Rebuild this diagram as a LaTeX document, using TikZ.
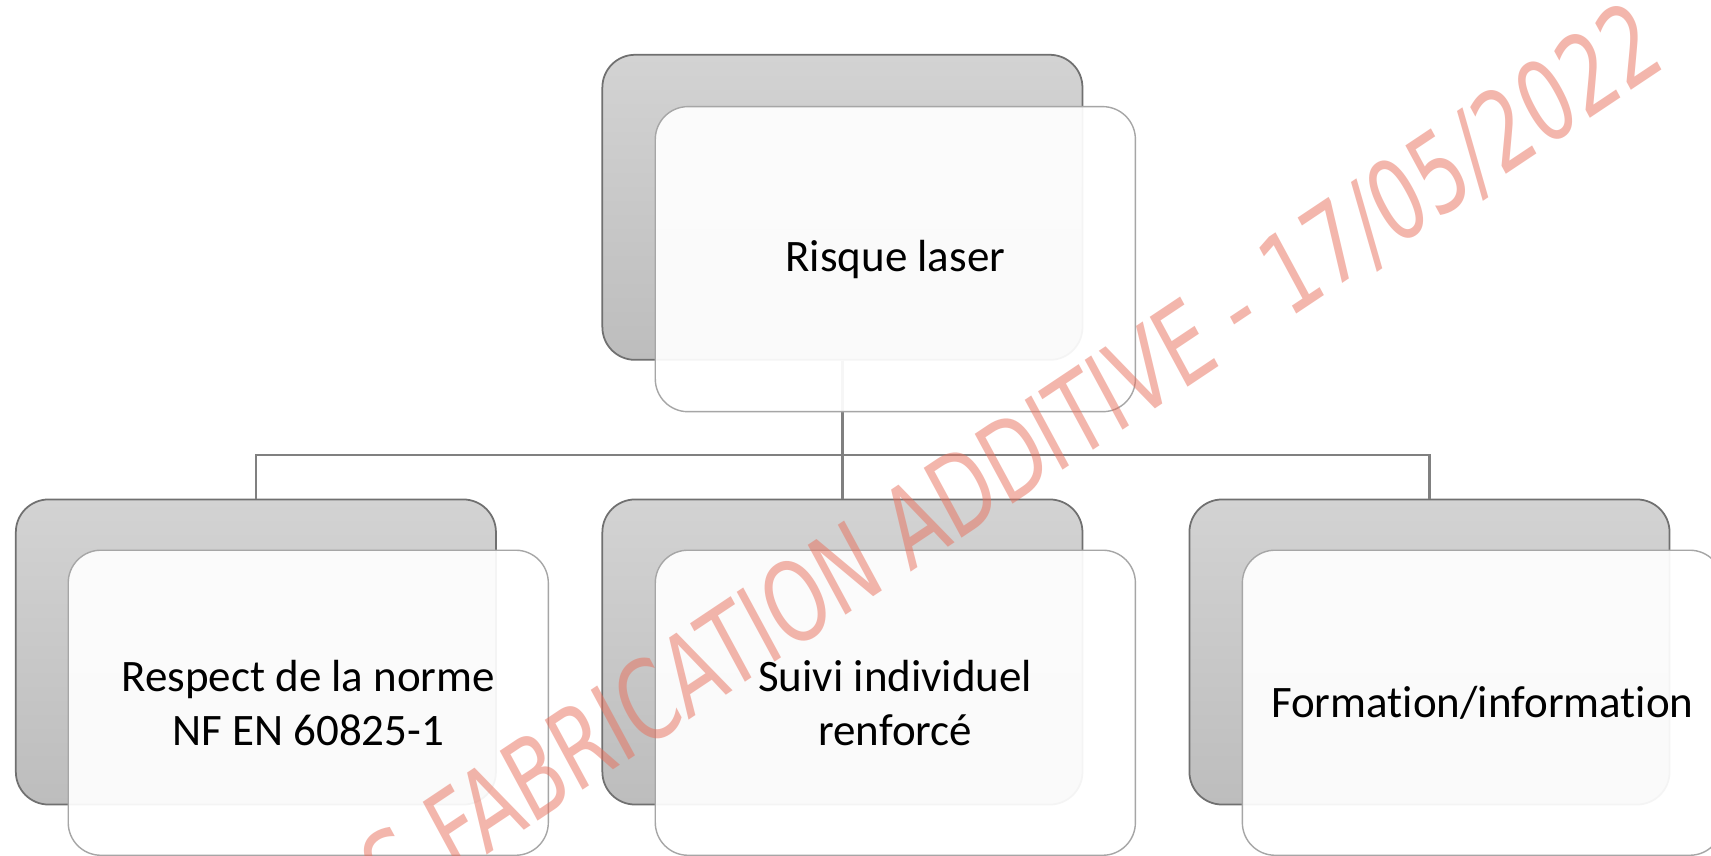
\documentclass[tikz,border=0pt]{standalone}
\usepackage{fontspec}
\setmainfont{Carlito}[Ligatures=NoCommon]
\newfontfamily\stampfont{DejaVu Sans}
\usetikzlibrary{positioning}

\definecolor{boxtop}{RGB}{211,211,211}
\definecolor{boxbot}{RGB}{189,189,189}
\definecolor{boxline}{RGB}{112,112,112}
\definecolor{cardfill}{RGB}{255,255,255}
\definecolor{cardline}{RGB}{166,166,166}
\definecolor{linkgray}{RGB}{128,128,128}
\definecolor{stampred}{RGB}{232,110,90}

\tikzset{
  backbox/.style={draw=boxline, line width=.5pt, rounded corners=9.3pt,
    top color=boxtop, bottom color=boxbot, minimum width=4.8cm, minimum height=3.05cm},
  frontbox/.style={draw=cardline, line width=.4pt, rounded corners=9.3pt,
    fill=cardfill, fill opacity=.93, text opacity=1, align=center,
    font=\fontsize{12.8}{15.4}\selectfont,
    minimum width=4.8cm, minimum height=3.05cm},
  link/.style={draw=linkgray, line width=.65pt},
  stamp/.style={text=stampred, text opacity=.5, font=\stampfont\fontsize{31.8}{33}\selectfont}
}

\begin{document}
\begin{tikzpicture}[x=0.010912cm, y=-0.010912cm]
    \useasboundingbox[fill=white] (0,0) rectangle (1568,784);

    % back cards
    \node[backbox] (topback) at (772,190) {};
\foreach \i/\x in {1/234.5,2/772,3/1310}
{
    \node[backbox] (back\i) at (\x,597.5) {};
}

    % tree lines
    \coordinate (bus) at (772,417);
\foreach \i in {1,2,3}
{
    \draw[link] (topback.south) -- (bus) -| (back\i.north);
}

    % front cards
    \node[frontbox] (risk) at (820.5,237.5) {Risque laser};
    \node[frontbox] (norm) at (282.5,644) {Respect de la norme\\NF EN 60825-1};
    \node[frontbox] (watch) at (820.5,644) {Suivi individuel\\renforcé};
    \node[frontbox] (train) at (1358.5,644) {Formation/information};

    % watermark (slightly squeezed sideways)
\begin{scope}[xscale=.9]
    \node[stamp, rotate=31, transform shape, anchor=base east, inner sep=0pt] (mark) at (1700,60)
        {\scalebox{0.765}[1]{RS FABRICATION ADDITIVE - 17/05/2022}};
\end{scope}

\end{tikzpicture}
\end{document}
